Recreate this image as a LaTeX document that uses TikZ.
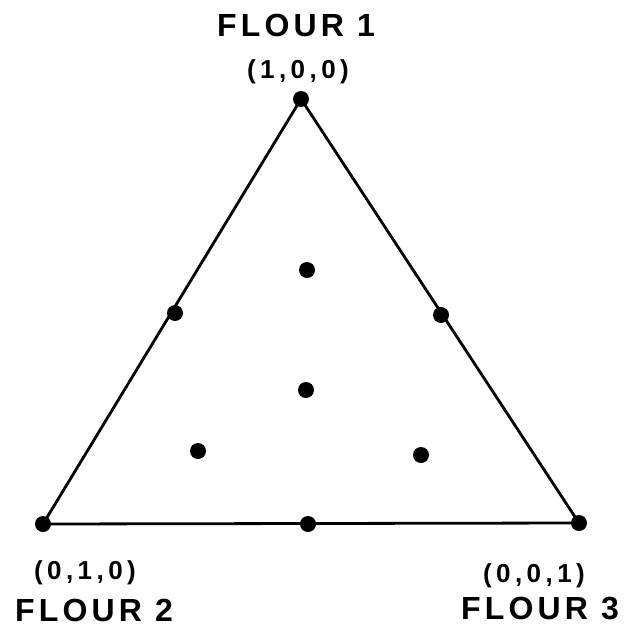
\documentclass[tikz,border=0pt]{standalone}
\usepackage{fontspec}
\setmainfont{Liberation Sans}
\newfontfamily\lblfont[LetterSpace=13]{Liberation Sans}
\newfontfamily\crdfont[LetterSpace=17]{Liberation Sans}
\begin{document}
\begin{tikzpicture}[x=1pt,y=-1pt,
  pt/.style={circle,fill=black,inner sep=0pt,minimum size=16pt},
  big/.style={font=\lblfont\fontsize{32}{34}\selectfont\bfseries,inner sep=0pt},
  crd/.style={font=\crdfont\fontsize{26}{28}\selectfont\bfseries,inner sep=0pt}]
\useasboundingbox (0,0) rectangle (626,627);
\node[pt] (A) at (301,99) {};
\node[pt] (B) at (43,524) {};
\node[pt] (C) at (579,523) {};
\node[pt] (mAB) at (175,313) {};
\node[pt] (mAC) at (441,315) {};
\node[pt] (mBC) at (308,524) {};
\node[pt] (i1) at (307,270) {};
\node[pt] (i2) at (306,390) {};
\node[pt] (i3) at (198,451) {};
\node[pt] (i4) at (421,455) {};
\draw[line width=2.8pt,line join=round] (A.center) -- (B.center) -- (C.center) -- cycle;
\node[big] (t1) at (296,25) {FLOUR 1};
\node[crd] (c1) at (298,72) {(1,0,0)};
\node[crd] (c2) at (85,573) {(0,1,0)};
\node[big] (t2) at (94,610) {FLOUR 2};
\node[crd] (c3) at (534,576) {(0,0,1)};
\node[big] (t3) at (540,608) {FLOUR 3};
\end{tikzpicture}
\end{document}
